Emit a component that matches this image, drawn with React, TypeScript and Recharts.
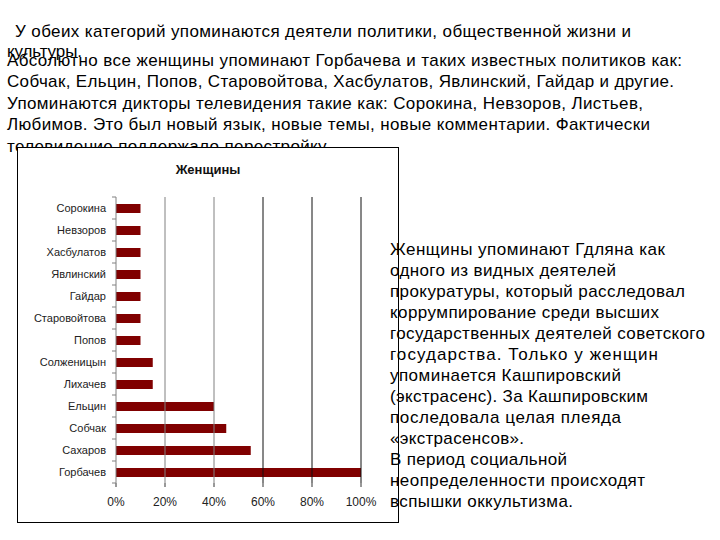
import { Bar, BarChart, ReferenceLine, XAxis, YAxis } from 'recharts'

// Женщины: доля упоминаний, сверху вниз как на диаграмме
const names = [
  'Сорокина',
  'Невзоров',
  'Хасбулатов',
  'Явлинский',
  'Гайдар',
  'Старовойтова',
  'Попов',
  'Солженицын',
  'Лихачев',
  'Ельцин',
  'Собчак',
  'Сахаров',
  'Горбачев',
]
const shares = [10, 10, 10, 10, 10, 10, 10, 15, 15, 40, 45, 55, 100]
const xTicks = [0, 20, 40, 60, 80, 100]
const grayGrid = [20, 40]
const darkGrid = [60, 80, 100]

const introLines = ['У обеих категорий упоминаются деятели политики, общественной жизни и', 'культуры.']
const bodyLines = [
  'Абсолютно все женщины упоминают Горбачева и таких известных политиков как:',
  'Собчак, Ельцин, Попов, Старовойтова, Хасбулатов, Явлинский, Гайдар и другие.',
  'Упоминаются дикторы телевидения такие как: Сорокина, Невзоров, Листьев,',
  'Любимов. Это был новый язык, новые темы, новые комментарии. Фактически',
  'телевидение поддержало перестройку.',
]
const sideLines = [
  'Женщины упоминают Гдляна как',
  'одного из видных деятелей',
  'прокуратуры, который расследовал',
  'коррумпирование среди высших',
  'государственных деятелей советского',
  'государства. Только у женщин',
  'упоминается Кашпировский',
  '(экстрасенс). За Кашпировским',
  'последовала целая плеяда',
  '«экстрасенсов».',
  'В период социальной',
  'неопределенности происходят',
  'вспышки оккультизма.',
]

// widths of the text lines on the slide (px)
const introWidths = [616, 75]
const bodyWidths = [675, 667, 636, 643, 323]
const sideWidths = [275, 226, 295, 269, 315, 268, 231, 258, 231, 134, 177, 255, 183]

const data = names.map((name, i) => ({ name, value: shares[i] }))

const FONT = '"Liberation Sans", Arial, sans-serif'
const CHART_W = 380
const CHART_H = 374
const AXIS_X = 98
const PLOT_TOP = 49
const PLOT_H = 286
const BAND = PLOT_H / names.length

function NameTick(props: any) {
  const { y, payload, index } = props
  const last = index === names.length - 1
  return (
    <g>
      <line x1={AXIS_X - 4} x2={AXIS_X} y1={y - BAND / 2} y2={y - BAND / 2} stroke="#808080" />
      {last && <line x1={AXIS_X - 4} x2={AXIS_X} y1={y + BAND / 2} y2={y + BAND / 2} stroke="#808080" />}
      <text x={AXIS_X - 10} y={y} dy="0.355em" textAnchor="end" fontSize={11} fill="#222" fontFamily={FONT}>
        {payload.value}
      </text>
    </g>
  )
}

export default function App() {
  return (
    <div style={{ position: 'absolute', left: 0, top: 0, width: 720, height: 540, background: '#fff', fontFamily: FONT }}>
      <svg width={720} height={160} style={{ position: 'absolute', left: 0, top: 0 }}>
        {introLines.map((t, i) => (
          <text key={t} x={i === 0 ? 15 : 7} y={37 + i * 20} fontSize={17} fill="#000" fontFamily={FONT} textLength={introWidths[i]}>
            {t}
          </text>
        ))}
        {bodyLines.map((t, i) => (
          <text key={t} x={7} y={66 + i * 21.4} fontSize={17} fill="#000" fontFamily={FONT} textLength={bodyWidths[i]}>
            {t}
          </text>
        ))}
      </svg>

      <div
        style={{
          position: 'absolute',
          left: 17,
          top: 147,
          width: CHART_W + 2,
          height: CHART_H + 2,
          boxSizing: 'border-box',
          border: '1px solid #000',
          background: '#fff',
        }}
      >
        <div
          style={{
            position: 'absolute',
            left: 0,
            top: 15,
            width: 380,
            textAlign: 'center',
            fontSize: 13,
            fontWeight: 'bold',
            color: '#111',
            lineHeight: '13px',
          }}
        >
          Женщины
        </div>
        <BarChart
          width={CHART_W}
          height={CHART_H}
          data={data}
          layout="vertical"
          barSize={9}
          margin={{ top: PLOT_TOP, right: 37, left: 0, bottom: 0 }}
        >
          <XAxis
            type="number"
            domain={[0, 100]}
            ticks={xTicks}
            tickFormatter={(v) => `${v}%`}
            axisLine={false}
            tickLine={{ stroke: '#333' }}
            tickSize={4}
            tickMargin={10}
            height={39}
            tick={{ fontSize: 12, fill: '#222', fontFamily: FONT }}
          />
          <XAxis
            xAxisId="top"
            orientation="top"
            type="number"
            domain={[0, 100]}
            tick={false}
            tickLine={false}
            axisLine={{ stroke: '#808080' }}
            height={0}
          />
          <YAxis
            type="category"
            dataKey="name"
            width={AXIS_X}
            axisLine={{ stroke: '#808080' }}
            tickLine={false}
            interval={0}
            tick={<NameTick />}
          />
          {grayGrid.map((v) => (
            <ReferenceLine key={v} x={v} stroke="#808080" />
          ))}
          {darkGrid.map((v) => (
            <ReferenceLine key={v} x={v} stroke="#111" />
          ))}
          <Bar dataKey="value" fill="#800000" isAnimationActive={false} />
        </BarChart>
      </div>

      <svg width={720} height={540} style={{ position: 'absolute', left: 0, top: 0, pointerEvents: 'none' }}>
        {sideLines.map((t, i) => (
          <text key={t} x={390} y={255 + i * 21} fontSize={17} fill="#000" fontFamily={FONT} textLength={sideWidths[i]}>
            {t}
          </text>
        ))}
      </svg>
    </div>
  )
}
